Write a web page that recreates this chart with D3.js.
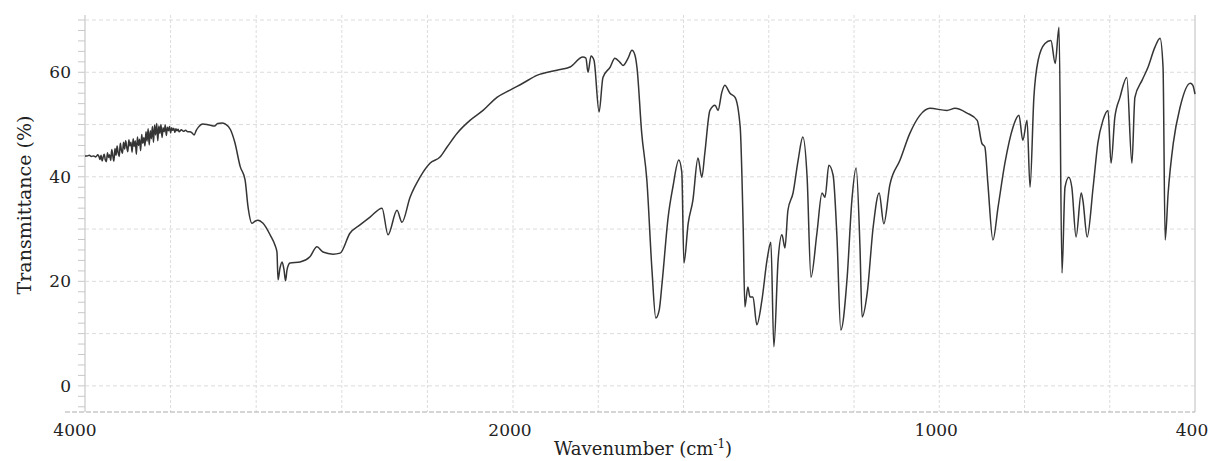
<!DOCTYPE html>
<html>
<head>
<meta charset="utf-8">
<script src="https://cdn.jsdelivr.net/npm/d3@7"></script>
<style>
  body { margin: 0; background: #fff; }
  .tickLabel { font-family: "DejaVu Serif", serif; font-size: 17px; fill: #222; }
  .axisTitle { font-family: "DejaVu Serif", serif; font-size: 18px; fill: #222; }
</style>
</head>
<body>
<div id="spectrum"></div>
<script>
// IR spectrum, wavenumber (cm-1) vs transmittance (%)
var wavenumber = [
  4000, 3990, 3980, 3970, 3960, 3950, 3940, 3935, 3930, 3925, 3920, 3915, 3910, 3905, 3900, 3895,
  3890, 3885, 3880, 3875, 3870, 3865, 3860, 3855, 3850, 3845, 3840, 3835, 3830, 3825, 3820, 3815,
  3810, 3805, 3800, 3795, 3790, 3785, 3780, 3775, 3770, 3765, 3760, 3755, 3750, 3745, 3740, 3735,
  3730, 3725, 3720, 3715, 3710, 3705, 3700, 3695, 3690, 3685, 3680, 3675, 3670, 3665, 3660, 3655,
  3650, 3645, 3640, 3635, 3630, 3625, 3620, 3615, 3610, 3605, 3600, 3595, 3590, 3585, 3580, 3575,
  3570, 3565, 3560, 3550, 3540, 3530, 3520,
  3510, 3500, 3490, 3480, 3470, 3450, 3430, 3410, 3395, 3380, 3360, 3345, 3320, 3300, 3275,
  3252, 3238, 3220, 3206, 3192, 3168, 3135, 3112, 3103, 3098, 3089, 3079, 3070, 3063, 3056, 3042,
  2995, 2949, 2916, 2888, 2841, 2808, 2762, 2715, 2668, 2612, 2584, 2542, 2519, 2481, 2435, 2388,
  2341, 2308, 2262, 2201, 2140, 2075, 2014, 1977, 1944, 1897, 1866, 1836, 1829, 1824, 1817, 1810,
  1798, 1789, 1772, 1761, 1749, 1742, 1730, 1721, 1714, 1709, 1698, 1686, 1674, 1665, 1657, 1650,
  1636, 1625, 1611, 1604, 1599, 1589, 1578, 1566, 1557, 1550, 1538, 1526, 1519, 1510, 1503, 1491,
  1479, 1467, 1460, 1456, 1449, 1444, 1437, 1428, 1416, 1404, 1395, 1388, 1378, 1369, 1362, 1355,
  1343, 1331, 1320, 1310, 1301, 1287, 1275, 1268, 1259, 1249, 1240, 1231, 1216, 1205, 1195, 1186,
  1181, 1169, 1155, 1141, 1130, 1116, 1092, 1069, 1045, 1022, 982, 963, 935, 911, 900, 893,
  886, 874, 862, 846, 827, 813, 804, 794, 787, 778, 768, 752, 738, 728, 719, 712,
  705, 696, 689, 679, 667, 663, 653, 639, 628, 616, 604, 597, 588, 576, 560, 548,
  541, 524, 510, 494, 482, 475, 470, 463, 451, 435, 411, 405, 400
];
var transmittance = [
  44.0, 44.0, 44.1, 43.9, 44.0, 43.8, 44.2, 43.9, 43.3, 44.1, 43.0, 43.8, 44.3, 43.2, 42.9, 44.6,
  43.7, 44.2, 43.1, 45.2, 44.0, 43.0, 45.4, 44.1, 45.9, 44.6, 43.9, 46.4, 45.1, 44.5, 46.6, 45.3,
  46.9, 45.7, 44.8, 47.1, 45.9, 46.6, 44.7, 47.3, 45.8, 46.9, 44.3, 47.6, 46.0, 47.2, 45.0, 48.1,
  46.4, 47.5, 45.9, 48.6, 46.8, 49.2, 46.1, 48.8, 47.3, 49.6, 46.6, 49.9, 48.0, 50.2, 46.9, 49.7,
  48.3, 50.0, 47.5, 49.4, 48.6, 49.9, 47.9, 49.5, 48.8, 49.6, 48.4, 49.4, 48.9, 49.3, 48.5, 49.2,
  48.8, 49.1, 48.6, 49.0, 48.7, 48.9, 48.6,
  48.6, 48.4, 48.0, 48.9, 49.5, 50.1, 50.0, 49.8, 49.7, 50.2, 50.3, 50.1, 49.0, 46.6, 42.0,
  39.4, 34.2, 31.1, 31.5, 31.7, 31.1, 28.9, 26.9, 25.6, 20.3, 22.5, 23.7, 22.2, 20.1, 22.2, 23.5,
  23.7, 24.7, 26.6, 25.6, 25.2, 25.4, 29.2, 30.8, 32.3, 34.0, 28.9, 33.6, 31.3, 36.1, 39.9, 42.6,
  43.8, 45.7, 48.3, 50.8, 52.7, 55.2, 56.6, 57.9, 59.4, 60.4, 61.0, 62.9, 62.7, 60.0, 63.1, 62.3,
  52.4, 59.0, 61.0, 62.7, 61.9, 61.3, 62.7, 64.2, 63.3, 60.8, 48.3, 39.4, 22.2, 13.0, 14.5, 19.9,
  32.3, 38.0, 43.2, 40.9, 23.5, 31.1, 35.5, 43.6, 39.9, 44.5, 52.7, 53.7, 52.7, 56.2, 57.5, 56.0,
  55.2, 49.5, 30.4, 15.1, 18.9, 17.0, 17.0, 11.7, 16.4, 24.1, 27.5, 7.5, 24.1, 28.9, 26.4, 33.6,
  36.9, 43.2, 47.6, 39.9, 20.8, 29.2, 36.9, 36.1, 42.2, 40.3, 28.5, 10.7, 20.8, 35.5, 41.7, 26.6,
  13.2, 17.8, 30.4, 36.9, 31.0, 38.4, 43.2, 48.3, 51.8, 53.1, 52.7, 53.1, 52.2, 50.8, 46.4, 45.7,
  38.8, 27.9, 34.2, 42.6, 49.5, 51.8, 47.0, 50.8, 38.0, 55.2, 62.3, 65.5, 66.1, 61.7, 68.6, 21.6,
  38.0, 39.9, 38.0, 28.5, 36.9, 35.5, 28.5, 38.0, 46.4, 50.8, 52.7, 42.6, 51.4, 55.2, 59.0, 42.6,
  55.2, 58.5, 61.0, 64.8, 66.5, 61.0, 27.9, 36.9, 46.4, 53.3, 57.9, 57.5, 55.8
];

var xTickValues = [4000, 2000, 1000, 400];
var yTickValues = [0, 20, 40, 60];
// chart paper divisions: 400 cm-1 steps above 2000, 200 cm-1 steps below
var xGridValues = [4000, 3600, 3200, 2800, 2400, 2000, 1800, 1600, 1400, 1200, 1000, 800, 600, 400];
var yGridValues = [0, 10, 20, 30, 40, 50, 60, 70];
var yMinorValues = d3.range(-4, 71, 2);

var width = 1211,
    height = 461;

var svg = d3.select("#spectrum").append("svg")
    .attr("width", width)
    .attr("height", height);

// the paper scale changes at 2000 cm-1
var x = d3.scaleLinear()
    .domain([4000, 2000, 400])
    .range([85, 513, 1195]);

var y = d3.scaleLinear()
    .domain([-5, 70])
    .range([412, 20]);

var data = wavenumber.map((w, i) => ({ wn: w, t: transmittance[i] }));

//*grid
var grid = svg.append("g");

grid.selectAll(".vgrid")
    .data(xGridValues)
    .enter().append("line")
    .attr("x1", d => x(d)).attr("x2", d => x(d))
    .attr("y1", y(70) - 5).attr("y2", y(-5))
    .attr("stroke", (d, i) => (i == 0 || i == xGridValues.length - 1) ? "#bdbdbd" : "#dcdcdc")
    .attr("stroke-width", 1)
    .attr("stroke-dasharray", (d, i) => (i == 0 || i == xGridValues.length - 1) ? null : "3,2");

grid.selectAll(".hgrid")
    .data(yGridValues)
    .enter().append("line")
    .attr("x1", x(4000)).attr("x2", x(400))
    .attr("y1", d => y(d)).attr("y2", d => y(d))
    .attr("stroke", "#dcdcdc")
    .attr("stroke-width", 1)
    .attr("stroke-dasharray", "4,3");

// bottom edge of the paper
grid.append("line")
    .attr("x1", x(4000) - 20).attr("x2", x(400))
    .attr("y1", y(-5)).attr("y2", y(-5))
    .attr("stroke", "#acacac")
    .attr("stroke-dasharray", "5,2");

// small marks along the left edge
grid.selectAll(".minor")
    .data(yMinorValues)
    .enter().append("line")
    .attr("x1", x(4000) - 7).attr("x2", x(4000))
    .attr("y1", d => y(d)).attr("y2", d => y(d))
    .attr("stroke", "#c8c8c8");

//*spectrum trace
var line = d3.line()
    .x(d => x(d.wn))
    .y(d => y(d.t))
    .curve(d3.curveMonotoneX);

svg.append("path")
    .datum(data)
    .attr("d", line)
    .attr("fill", "none")
    .attr("stroke", "#353535")
    .attr("stroke-width", 1.5)
    .attr("stroke-linejoin", "round");

//*tick labels
svg.selectAll(".ylabel")
    .data(yTickValues)
    .enter().append("text")
    .attr("class", "tickLabel")
    .attr("x", 71)
    .attr("y", d => y(d))
    .attr("dy", "0.36em")
    .attr("text-anchor", "end")
    .text(d => d);

svg.selectAll(".xlabel")
    .data(xTickValues)
    .enter().append("text")
    .attr("class", "tickLabel")
    .attr("x", (d, i) => i == 0 ? x(d) - 10 : x(d) - 3)
    .attr("y", 436)
    .attr("text-anchor", "middle")
    .text(d => d);

//*axis titles
svg.append("text")
    .attr("class", "axisTitle")
    .attr("transform", "translate(31,205) rotate(-90)")
    .attr("text-anchor", "middle")
    .style("font-size", "19px")
    .text("Transmittance (%)");

var xTitle = svg.append("text")
    .attr("class", "axisTitle")
    .attr("x", 643)
    .attr("y", 455)
    .attr("text-anchor", "middle");
xTitle.append("tspan").text("Wavenumber (cm");
xTitle.append("tspan").attr("dy", -7).style("font-size", "12px").text("-1");
xTitle.append("tspan").attr("dy", 7).text(")");
</script>
</body>
</html>
